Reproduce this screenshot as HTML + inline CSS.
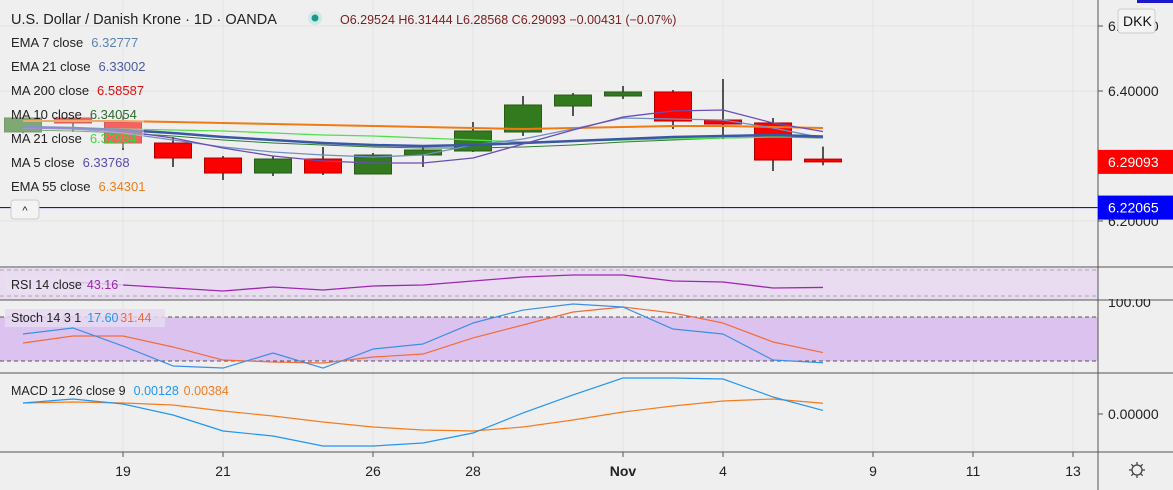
<!DOCTYPE html>
<html><head><meta charset="utf-8"><style>
body{margin:0;width:1173px;height:490px;overflow:hidden;background:#efefef;font-family:"Liberation Sans",sans-serif;}
svg{display:block}
</style></head><body>
<svg id="c" width="1173" height="490" font-family="Liberation Sans, sans-serif"></svg>
<script>
const days=['Oct15','Oct16','Oct19','Oct20','Oct21','Oct22','Oct23','Oct26','Oct27','Oct28','Oct29','Oct30','Nov2','Nov3','Nov4','Nov5','Nov6'];
const opens=[6.337,6.3585,6.3523,6.32,6.2969,6.2738,6.2954,6.2723,6.3015,6.3077,6.3369,6.3769,6.3923,6.3985,6.3554,6.3508,6.29524];
const highs=[6.36,6.36,6.3631,6.3292,6.30,6.30,6.3138,6.3046,6.3169,6.3523,6.3923,6.3969,6.4077,6.4015,6.4185,6.3585,6.31444];
const lows=[6.335,6.337,6.3092,6.2831,6.2631,6.2692,6.2708,6.2723,6.2831,6.3062,6.3308,6.3615,6.3877,6.3415,6.3262,6.2769,6.28568];
const closes=[6.3585,6.3508,6.32,6.2969,6.2738,6.2954,6.2738,6.3015,6.3092,6.3385,6.3785,6.3938,6.3985,6.3538,6.3492,6.2938,6.29093];
const ema55=[6.3538,6.3538,6.3538,6.3523,6.3508,6.3492,6.3477,6.3462,6.3446,6.3431,6.3415,6.3431,6.3446,6.3462,6.3462,6.3446,6.34301];
const ma21=[6.3431,6.3431,6.3415,6.34,6.3385,6.3354,6.3323,6.3308,6.3277,6.3246,6.3215,6.3231,6.3246,6.3262,6.3277,6.3292,6.3292];
const ma10=[6.34,6.3385,6.3354,6.3308,6.3246,6.32,6.3169,6.3138,6.3123,6.3123,6.3138,6.3169,6.3215,6.3246,6.3277,6.3292,6.3277];
const ema21=[6.3446,6.3431,6.34,6.3354,6.3292,6.3246,6.32,6.3169,6.3154,6.3169,6.32,6.3231,6.3262,6.3292,6.3308,6.3323,6.33002];
const ema7=[6.3431,6.3415,6.3354,6.3246,6.3138,6.3062,6.3015,6.2985,6.3015,6.3169,6.3262,6.3415,6.3585,6.3569,6.3554,6.3431,6.32777];
const ma5=[6.3431,6.3415,6.3385,6.3277,6.3123,6.30,6.2923,6.2892,6.2892,6.2969,6.3185,6.34,6.36,6.3692,6.3708,6.3508,6.33768];
const rsi=[null,51.5,46.9,42.3,37.7,43.8,39.2,45.4,46.9,53.1,59.2,62.3,62.3,53.1,51.5,42.3,43.16];
const stochK=[56.8,65,40.4,13.2,10.4,30.9,10.4,36.3,43.2,71.8,89.5,97.7,93.6,63.6,56.8,21.3,17.6];
const stochD=[44.5,54.1,54.1,39.1,21.3,18.6,17.2,25.4,29.5,51.4,69.1,86.8,93.6,85.5,71.8,45.9,31.44];
const macd=[.00393,.00536,.00357,-.00036,-.00607,-.00786,-.01143,-.01143,-.01036,-.00679,.00036,.00679,.01286,.01286,.0125,.00607,.00128];
const signal=[.00393,.00429,.00393,.00321,.00107,-.00071,-.00286,-.00464,-.00571,-.00607,-.00464,-.00214,.00071,.00286,.00464,.00536,.00384];
const priceTicks=[6.5,6.4,6.2];
const dateLabels=[['19',2],['21',4],['26',7],['28',9],['Nov',12],['4',14],['9',17],['11',19],['13',21]];

const S=document.getElementById('c');const NS='http://www.w3.org/2000/svg';
function el(t,a,txt){const e=document.createElementNS(NS,t);for(const k in a)e.setAttribute(k,a[k]);if(txt!=null)e.textContent=txt;S.appendChild(e);return e;}
const X=i=>23+i*50;
const PY=p=>91+(6.40-p)*650;
const RY=v=>270+(70-v)*0.65;
const SY=v=>317+(80-v)*0.733;
const MY=v=>414-v*2800;

dateLabels.forEach(d=>{const g=el('line',{x1:X(d[1]),x2:X(d[1]),y1:0,y2:452,stroke:'#e3e3e3'});});
priceTicks.forEach(p=>{const g=el('line',{x1:0,x2:1098,y1:PY(p),y2:PY(p),stroke:'#e3e3e3'});});

el('rect',{x:0,y:268,width:1098,height:32,fill:'#e9dcf1',});
el('line',{x1:0,x2:1098,y1:270,y2:270,stroke:'#aaa','stroke-dasharray':'4 3'});
el('line',{x1:0,x2:1098,y1:296,y2:296,stroke:'#aaa','stroke-dasharray':'4 3'});
el('rect',{x:0,y:SY(80),width:1098,height:SY(20)-SY(80),fill:'#dcc3ef',});
el('line',{x1:0,x2:1098,y1:SY(80),y2:SY(80),stroke:'#555','stroke-dasharray':'4 3'});
el('line',{x1:0,x2:1098,y1:SY(20),y2:SY(20),stroke:'#555','stroke-dasharray':'4 3'});

days.forEach((d,i)=>{
 const up=closes[i]>=opens[i];const col=up?'#337a1f':'#ff0000';
 const w=el('line',{x1:X(i),x2:X(i),y1:PY(highs[i]),y2:PY(lows[i]),stroke:'#000','stroke-width':1.3});
 
 const t=Math.min(PY(opens[i]),PY(closes[i]));const h=Math.max(2,Math.abs(PY(opens[i])-PY(closes[i])));
 const b=el('rect',{x:X(i)-18.5,y:t,width:37,height:h,fill:col,stroke:up?'#2a5a1a':'#b00000','stroke-width':1});
 
});
function line(arr,Y,col,w,name){let pts=[];arr.forEach((v,i)=>{if(v!=null)pts.push(X(i)+','+Y(v));});
 const p=el('polyline',{points:pts.join(' '),fill:'none',stroke:col,'stroke-width':w,'stroke-linejoin':'round'});
 }
line(ma10,PY,'#2e7d32',1,'ma10-line');
line(ma21,PY,'#4fe04a',1.3,'ma21-line');
line(ema55,PY,'#f07a14',2,'ema55-line');
line(ema7,PY,'#6f8fc4',1.3,'ema7-line');
line(ema21,PY,'#3a57a6',2.5,'ema21-line');
line(ma5,PY,'#6a4cb5',1.3,'ma5-line');
line(rsi,RY,'#9c27b0',1.3,'rsi-line');
line(stochD,SY,'#f26b3a',1.2,'stoch-d-line');
line(stochK,SY,'#3d8fe6',1.2,'stoch-k-line');
line(signal,MY,'#f57c1f',1.2,'macd-signal-line');
line(macd,MY,'#2196f3',1.2,'macd-line');

el('line',{x1:0,x2:1098,y1:PY(6.22065),y2:PY(6.22065),stroke:'#1a1aaa','stroke-width':1.2,});

[267,300,373,452].forEach(y=>{const s=el('line',{x1:0,x2:1173,y1:y,y2:y,stroke:'#555'});});
el('line',{x1:1098,x2:1098,y1:0,y2:490,stroke:'#555',});
el('rect',{x:1137,y:0,width:36,height:3,fill:'#1a1acc'});

priceTicks.forEach(p=>{const t=el('text',{x:1108,y:PY(p)+5,'font-size':14,fill:'#222'},p.toFixed(5));
 el('line',{x1:1098,x2:1103,y1:PY(p),y2:PY(p),stroke:'#555'});});
el('rect',{x:1098,y:PY(6.29093)-12,width:75,height:24,fill:'#ff0000',});
el('text',{x:1108,y:PY(6.29093)+5,'font-size':14,fill:'#fff'},'6.29093');
el('rect',{x:1098,y:PY(6.22065)-12,width:75,height:24,fill:'#0000ff',});
el('text',{x:1108,y:PY(6.22065)+5,'font-size':14,fill:'#fff'},'6.22065');
el('rect',{x:1118,y:9,width:37,height:24,rx:3,fill:'#f3f3f3',stroke:'#ccc',});
el('text',{x:1123,y:26,'font-size':14,fill:'#111'},'DKK');
el('text',{x:1108,y:307,'font-size':14,fill:'#222',},'100.00');
el('rect',{x:1099,y:268,width:74,height:31,fill:'#efefef'});
el('text',{x:1108,y:MY(0)+5,'font-size':14,fill:'#222',},'0.00000');
el('line',{x1:1098,x2:1103,y1:MY(0),y2:MY(0),stroke:'#555'});

dateLabels.forEach(d=>{const t=el('text',{x:X(d[1]),y:476,'font-size':14,fill:'#222','text-anchor':'middle','font-weight':d[0]==='Nov'?'bold':'normal'},d[0]);
 el('line',{x1:X(d[1]),x2:X(d[1]),y1:452,y2:457,stroke:'#555'});});
const gear=el('circle',{cx:1137,cy:470,r:5,fill:'none',stroke:'#444','stroke-width':1.3});

for(let k=0;k<8;k++){const a=k*Math.PI/4;el('line',{x1:1137+5*Math.cos(a),y1:470+5*Math.sin(a),x2:1137+8*Math.cos(a),y2:470+8*Math.sin(a),stroke:'#444','stroke-width':1.3});}

// legend background overlay (semi-transparent)
el('rect',{x:4,y:108,width:140,height:40,fill:'#efefef',opacity:0.4});
el('text',{x:11,y:24,'font-size':14.5,fill:'#222',},'U.S. Dollar / Danish Krone · 1D · OANDA');
el('circle',{cx:315,cy:18,r:7,fill:'#cfe9e6'});el('circle',{cx:315,cy:18,r:3.5,fill:'#1a9a8a',});
el('text',{x:340,y:24,'font-size':12.5,fill:'#7a2020',},'O6.29524  H6.31444  L6.28568  C6.29093  −0.00431 (−0.07%)');
const legNames=['EMA 7 close','EMA 21 close','MA 200 close','MA 10 close','MA 21 close','MA 5 close','EMA 55 close'];
const legVals=['6.32777','6.33002','6.58587','6.34054','6.32984','6.33768','6.34301'];
const legCols=['#5b84b0','#4a5ca0','#e01010','#2e6a2e','#3ed63e','#5a4ab0','#ef7d1a'];
legNames.forEach((n,i)=>{const y=47+i*24;const t=el('text',{x:11,y:y,'font-size':13,fill:'#222'},n);
 el('text',{x:11+t.getComputedTextLength()+8,y:y,'font-size':13,fill:legCols[i]},legVals[i]);});
el('rect',{x:11,y:200,width:28,height:19,rx:3,fill:'#f4f4f4',stroke:'#ccc',});
el('text',{x:25,y:214,'font-size':11,fill:'#222','text-anchor':'middle'},'^');
el('rect',{x:5,y:275,width:118,height:18,fill:'#eadff2',opacity:0.8});
const rl=el('text',{x:11,y:289,'font-size':12.5,fill:'#222',},'RSI 14 close');
el('text',{x:11+rl.getComputedTextLength()+5,y:289,'font-size':12.5,fill:'#9c27b0'},'43.16');
el('rect',{x:5,y:309,width:160,height:18,fill:'#e6d9f1',opacity:0.85});
const sl=el('text',{x:11,y:322,'font-size':12.5,fill:'#222',},'Stoch 14 3 1');
el('text',{x:11+sl.getComputedTextLength()+6,y:322,'font-size':12.5,fill:'#2196f3'},'17.60');
el('text',{x:11+sl.getComputedTextLength()+39,y:322,'font-size':12.5,fill:'#f26b3a'},'31.44');
const ml=el('text',{x:11,y:395,'font-size':12.5,fill:'#222',},'MACD 12 26 close 9');
el('text',{x:11+ml.getComputedTextLength()+8,y:395,'font-size':12.5,fill:'#2196f3'},'0.00128');
el('text',{x:11+ml.getComputedTextLength()+58,y:395,'font-size':12.5,fill:'#f57c1f'},'0.00384');
</script>
</body></html>
